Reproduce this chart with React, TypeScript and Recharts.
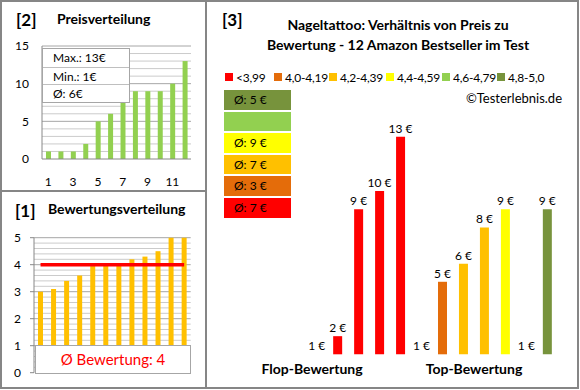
import type { CSSProperties, ReactNode } from "react";
import { BarChart, Bar, ComposedChart, Line, XAxis, YAxis, CartesianGrid, Cell } from "recharts";

const FONT = "Lato, 'Liberation Sans', sans-serif";
const FRAME = "#868686";

const productRanks = ["1", "2", "3", "4", "5", "6", "7", "8", "9", "10", "11", "12"];
const priceValues = [1, 1, 1, 2, 5, 6, 8, 9, 9, 9, 10, 13];
const priceTicks = [0, 5, 10, 15];
const priceSummary = ["Max.: 13€", "Min.: 1€", "Ø: 6€"];

const ratingValues = [3.0, 3.1, 3.4, 3.6, 3.95, 4.0, 4.05, 4.2, 4.3, 4.5, 5.0, 5.0];
const ratingTicks = [0, 1, 2, 3, 4, 5];
const ratingAverage = 4;

const groupLabels = ["<3,99", "4,0-4,19", "4,2-4,39", "4,4-4,59", "4,6-4,79", "4,8-5,0"];
const groupColors = ["#FF0000", "#E46C0A", "#FFC000", "#FFFF00", "#92D050", "#77933C"];
const groupAverages = ["Ø: 7 €", "Ø: 3 €", "Ø: 7 €", "Ø: 9 €", "", "Ø: 5 €"];
const matrixPrices = [1, 2, 9, 10, 13, 1, 5, 6, 8, 9, 1, 9];
const matrixGroups = [0, 0, 0, 0, 0, 1, 1, 2, 2, 3, 5, 5];

const priceData = productRanks.map((id, i) => ({ id, price: priceValues[i] }));
const ratingData = productRanks.map((id, i) => ({ id, rating: ratingValues[i], avg: ratingAverage }));
const matrixData = productRanks.map((id, i) => ({ id, price: matrixPrices[i], group: matrixGroups[i] }));

// legend item left edges in the reference layout
const legendX = [225, 274, 329, 386, 442, 497];

// gridline values: minor steps and every n-th one as major
const gridValues = (max: number, step: number, majorEvery: number, major: boolean): number[] => {
  const values: number[] = [];
  const count = Math.round(max / step);
  for (let i = 1; i <= count; i++) {
    if ((i % majorEvery === 0) === major) values.push(+(i * step).toFixed(2));
  }
  return values;
};

// y axes start at 0 here, so a linear map over the plot offset is the axis scale
const gridAt = (values: number[], max: number) => (props: any) => {
  const { yAxis, offset } = props;
  if (yAxis && typeof yAxis.scale === "function") return values.map((v) => yAxis.scale(v));
  return values.map((v) => offset.top + offset.height * (1 - v / max));
};

const abs = (s: CSSProperties): CSSProperties => ({ position: "absolute", ...s });

const Label = ({ x, y, w, children, style }: { x: number; y: number; w: number; children: ReactNode; style?: CSSProperties }) => (
  <div style={abs({ left: x, top: y - 10, width: w, height: 20, lineHeight: "20px", whiteSpace: "nowrap", ...style })}>
    {children}
  </div>
);

const tickStyle = { fontSize: 12, fill: "#000" };

const renderPriceLabel = (props: any) => {
  const { x, y, value, index } = props;
  return (
    <text key={`pl-${index}`} x={x} y={y - 4} textAnchor="middle" fontSize={12} fill="#000">
      {`${value} €`}
    </text>
  );
};

export default function App() {
  return (
    <div style={abs({ left: 0, top: 0, width: 580, height: 390, background: "#fff", fontFamily: FONT, color: "#000", overflow: "hidden" })}>
      {/* frame */}
      <div style={abs({ left: 0, top: 0, width: 579, height: 389, boxSizing: "border-box", border: `2px solid ${FRAME}` })} />
      <div style={abs({ left: 205, top: 0, width: 2, height: 389, background: FRAME })} />
      <div style={abs({ left: 0, top: 190, width: 206, height: 2, background: FRAME })} />

      {/* [2] Preisverteilung */}
      <Label x={16} y={20} w={30} style={{ fontWeight: 700, fontSize: 17 }}>[2]</Label>
      <Label x={57} y={19} w={140} style={{ fontWeight: 700, fontSize: 14 }}>Preisverteilung</Label>
      <div style={abs({ left: 0, top: 0 })}>
        <BarChart width={205} height={190} data={priceData} margin={{ top: 46, right: 14, bottom: 0, left: 0 }} barCategoryGap={0}>
          <CartesianGrid vertical={false} stroke="#cbcbcb" horizontalCoordinatesGenerator={gridAt(gridValues(15, 1, 5, false), 15)} />
          <CartesianGrid vertical={false} stroke="#a6a6a6" horizontalCoordinatesGenerator={gridAt(gridValues(15, 1, 5, true), 15)} />
          <XAxis dataKey="id" interval={1} tickLine={false} tickSize={0} tickMargin={18} height={31} axisLine={{ stroke: "#888" }} tick={tickStyle} />
          <YAxis domain={[0, 15]} ticks={priceTicks} width={42} tickLine={false} tickSize={0} tickMargin={13} axisLine={{ stroke: "#888" }} tick={tickStyle} />
          <Bar dataKey="price" fill="#92D050" barSize={5} isAnimationActive={false} />
        </BarChart>
      </div>
      <div style={abs({ left: 42, top: 48, width: 88, height: 55, boxSizing: "border-box", border: "1px solid #a6a6a6", background: "#fff" })}>
        {priceSummary.map((t, i) => (
          <div key={t} style={{ height: 17.6, lineHeight: "17px", paddingLeft: 10, fontSize: 12, borderTop: i ? "1px solid #bfbfbf" : "none", boxSizing: "border-box" }}>
            {t}
          </div>
        ))}
      </div>

      {/* [1] Bewertungsverteilung */}
      <Label x={15} y={211} w={30} style={{ fontWeight: 700, fontSize: 17 }}>[1]</Label>
      <Label x={48} y={209} w={160} style={{ fontWeight: 700, fontSize: 14 }}>Bewertungsverteilung</Label>
      <div style={abs({ left: 0, top: 191 })}>
        <ComposedChart width={205} height={197} data={ratingData} margin={{ top: 46.7, right: 14.3, bottom: 15.3, left: 0 }} barCategoryGap={0}>
          <CartesianGrid vertical={false} stroke="#cbcbcb" horizontalCoordinatesGenerator={gridAt(gridValues(5, 0.2, 5, false), 5)} />
          <CartesianGrid vertical={false} stroke="#a6a6a6" horizontalCoordinatesGenerator={gridAt(gridValues(5, 0.2, 5, true), 5)} />
          <XAxis dataKey="id" hide />
          <YAxis domain={[0, 5]} ticks={ratingTicks} width={34} tickSize={4} tickMargin={9} tickLine={{ stroke: "#888" }} axisLine={{ stroke: "#888" }} tick={tickStyle} />
          <Bar dataKey="rating" fill="#FFC000" barSize={5} isAnimationActive={false} />
          <Line dataKey="avg" stroke="#FF0000" strokeWidth={3.5} dot={false} activeDot={false} isAnimationActive={false} />
        </ComposedChart>
      </div>
      <div style={abs({ left: 35, top: 345, width: 156, height: 29, boxSizing: "border-box", border: "1px solid #a6a6a6", background: "#fff", color: "#FF0000", fontSize: 15, lineHeight: "26px", textAlign: "center" })}>
        Ø Bewertung: {ratingAverage}
      </div>

      {/* [3] Preis / Bewertung */}
      <Label x={222} y={20} w={30} style={{ fontWeight: 700, fontSize: 17 }}>[3]</Label>
      <Label x={248} y={25} w={300} style={{ fontWeight: 700, fontSize: 14, textAlign: "center" }}>Nageltattoo: Verhältnis von Preis zu</Label>
      <Label x={248} y={45} w={300} style={{ fontWeight: 700, fontSize: 14, textAlign: "center" }}>Bewertung - 12 Amazon Bestseller im Test</Label>
      {groupLabels.map((g, i) => (
        <div key={g} style={abs({ left: legendX[i], top: 68, height: 18, display: "flex", alignItems: "center", fontSize: 12, whiteSpace: "nowrap", letterSpacing: -0.2 })}>
          <span style={{ display: "inline-block", width: 8, height: 8, background: groupColors[i], marginRight: 3 }} />
          {g}
        </div>
      ))}
      <Label x={400} y={98} w={162} style={{ fontSize: 13, textAlign: "right" }}>©Testerlebnis.de</Label>
      {groupColors
        .map((c, i) => ({ c, t: groupAverages[i] }))
        .reverse()
        .map((g, i) => (
          <div key={i} style={abs({ left: 224, top: 90 + i * 21.6, width: 67, height: 19.5, background: g.c, fontSize: 12, lineHeight: "19.5px", paddingLeft: 10, boxSizing: "border-box" })}>
            {g.t}
          </div>
        ))}
      <div style={abs({ left: 206, top: 0 })}>
        <ComposedChart width={372} height={388} data={matrixData} margin={{ top: 118.6, right: 20.2, bottom: 33.7, left: 100.2 }} barCategoryGap={0}>
          <XAxis dataKey="id" hide />
          <YAxis domain={[1, 14]} hide />
          <Bar dataKey="price" barSize={9} isAnimationActive={false}>
            {matrixData.map((d) => (
              <Cell key={d.id} fill={groupColors[d.group]} />
            ))}
          </Bar>
          <Line dataKey="price" stroke="none" dot={false} activeDot={false} label={renderPriceLabel} isAnimationActive={false} />
        </ComposedChart>
      </div>
      <Label x={232} y={369} w={160} style={{ fontWeight: 700, fontSize: 14, textAlign: "center" }}>Flop-Bewertung</Label>
      <Label x={394} y={369} w={160} style={{ fontWeight: 700, fontSize: 14, textAlign: "center" }}>Top-Bewertung</Label>
    </div>
  );
}
